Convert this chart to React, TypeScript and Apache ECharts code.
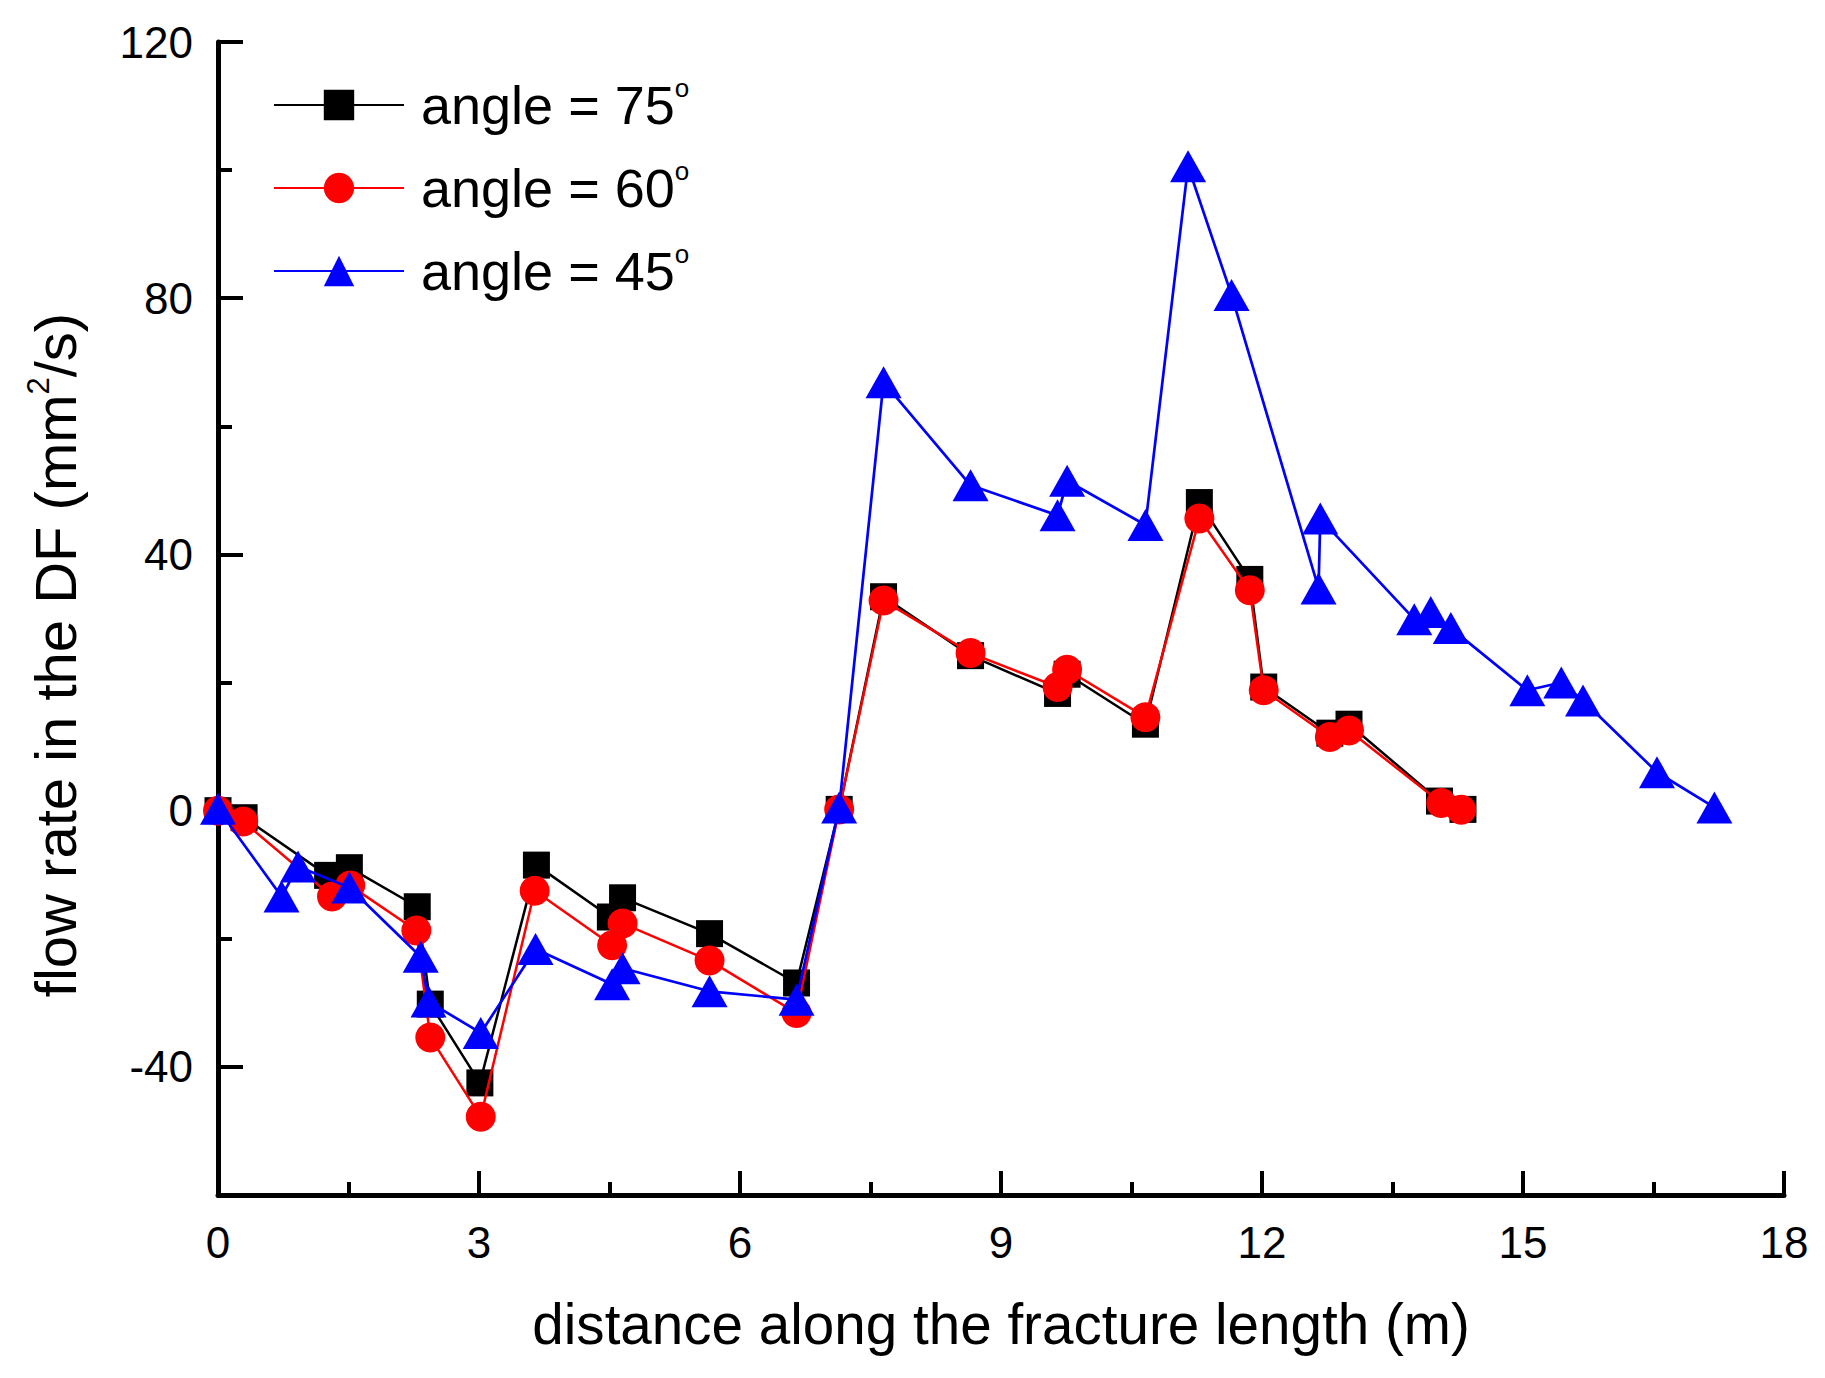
import React, { useEffect, useRef } from "react";
import * as echarts from "echarts";

const FONT = '"Liberation Sans", Arial, sans-serif';

const seriesNames = ["angle = 75", "angle = 60", "angle = 45"];

const x75 = [0, 0.3, 1.26, 1.51, 2.29, 2.44, 3.01, 3.66, 4.51, 4.65, 5.65, 6.65, 7.14, 7.65, 8.65, 9.65, 9.76, 10.66, 11.28, 11.86, 12.02, 12.78, 13.0, 14.04, 14.31];
const y75 = [0, -1.1, -10.1, -8.9, -15.0, -30.2, -42.5, -8.5, -16.6, -13.6, -19.2, -26.9, 0.2, 33.4, 24.2, 18.3, 21.3, 13.5, 48.1, 36.1, 19.3, 12.1, 13.5, 1.5, 0.2];

const x60 = [0, 0.29, 1.31, 1.52, 2.28, 2.44, 3.02, 3.64, 4.53, 4.65, 5.65, 6.65, 7.14, 7.65, 8.65, 9.65, 9.76, 10.66, 11.28, 11.86, 12.02, 12.78, 13.0, 14.06, 14.29];
const y60 = [0, -1.7, -13.4, -11.7, -18.7, -35.4, -47.8, -12.5, -21.0, -17.6, -23.4, -31.6, 0.2, 32.8, 24.6, 19.3, 22.0, 14.6, 45.6, 34.4, 18.8, 11.5, 12.5, 1.2, 0.15];

const x45 = [0, 0.73, 0.92, 1.51, 2.33, 2.42, 3.02, 3.65, 4.53, 4.65, 5.65, 6.65, 7.14, 7.65, 8.65, 9.65, 9.76, 10.66, 11.15, 11.65, 12.65, 12.67, 13.75, 13.94, 14.17, 15.05, 15.44, 15.69, 16.54, 17.2];
const y45 = [0.3, -13.4, -8.7, -12.0, -22.8, -29.8, -34.7, -21.6, -27.1, -24.6, -28.2, -29.5, 0.5, 66.9, 50.8, 46.1, 51.5, 44.6, 100.6, 80.5, 34.7, 45.6, 29.9, 31.0, 28.5, 18.8, 20.0, 17.2, 6.0, 0.5];

const yMajorTicks = [-40, 0, 40, 80, 120];
const yMinorTicks = [-20, 20, 60, 100];

const xTitle = "distance along the fracture length (m)";
const yTitleMain1 = "flow rate in the DF (mm";
const yTitleSup = "2";
const yTitleMain2 = "/s)";

const zip = (xs: number[], ys: number[]) => xs.map((x, i) => [x, ys[i]]);

export default function App() {
  const ref = useRef<HTMLDivElement>(null);
  useEffect(() => {
    if (!ref.current) return;
    const chart = echarts.init(ref.current, undefined, { renderer: "svg" });
    const axisLine = { show: true, onZero: false, lineStyle: { color: "#000", width: 5 } };
    const option: any = {
      animation: false,
      backgroundColor: "#fff",
      grid: { left: 218, right: 41, top: 42, bottom: 183, containLabel: false },
      legend: {
        orient: "vertical",
        left: 273,
        top: 75,
        padding: 0,
        itemWidth: 130,
        itemHeight: 38,
        itemGap: 26,
        data: seriesNames,
        formatter: (name: string) => `{t|${name}}{s|o}`,
        textStyle: {
          rich: {
            t: { fontSize: 54, fontFamily: FONT, color: "#000", padding: [0, 0, 0, 12], lineHeight: 60 },
            s: { fontSize: 26, fontFamily: FONT, color: "#000", verticalAlign: "top", lineHeight: 24 },
          },
        },
      },
      xAxis: {
        type: "value",
        min: 0,
        max: 18,
        interval: 3,
        axisLine,
        splitLine: { show: false },
        axisTick: { show: true, inside: true, length: 24, lineStyle: { color: "#000", width: 4 } },
        minorTick: { show: true, splitNumber: 2, length: 13, lineStyle: { color: "#000", width: 4 } },
        axisLabel: { fontSize: 44, fontFamily: FONT, color: "#000", margin: 25 },
        name: xTitle,
        nameLocation: "middle",
        nameGap: 101,
        nameTextStyle: { fontSize: 56.6, fontFamily: FONT, color: "#000" },
      },
      yAxis: [
        {
          type: "value",
          min: -60,
          max: 120,
          interval: 20,
          axisLine,
          splitLine: { show: false },
          axisTick: { show: true, inside: true, length: 25, customValues: yMajorTicks, lineStyle: { color: "#000", width: 4 } },
          axisLabel: { fontSize: 44, fontFamily: FONT, color: "#000", margin: 25, customValues: yMajorTicks },
        },
        {
          type: "value",
          min: -60,
          max: 120,
          interval: 20,
          position: "left",
          axisLine: { show: false, onZero: false },
          splitLine: { show: false },
          axisTick: { show: true, inside: true, length: 14, customValues: yMinorTicks, lineStyle: { color: "#000", width: 4 } },
          axisLabel: { show: false },
        },
      ],
      graphic: [
        {
          type: "text",
          x: 55,
          y: 655,
          rotation: Math.PI / 2,
          style: {
            text: `{a|${yTitleMain1}}{s|${yTitleSup}}{a|${yTitleMain2}}`,
            align: "center",
            verticalAlign: "middle",
            rich: {
              a: { fontSize: 58, fontFamily: FONT, fill: "#000", lineHeight: 64 },
              s: { fontSize: 31, fontFamily: FONT, fill: "#000", verticalAlign: "top", lineHeight: 29 },
            },
          },
        },
      ],
      series: [
        {
          name: seriesNames[0],
          type: "line",
          data: zip(x75, y75),
          symbol: "rect",
          symbolSize: 27,
          color: "#000000",
          lineStyle: { color: "#000000", width: 2.5 },
          itemStyle: { color: "#000000" },
          z: 2,
        },
        {
          name: seriesNames[1],
          type: "line",
          data: zip(x60, y60),
          symbol: "circle",
          symbolSize: 30,
          color: "#ff0000",
          lineStyle: { color: "#ff0000", width: 2.5 },
          itemStyle: { color: "#ff0000" },
          z: 3,
        },
        {
          name: seriesNames[2],
          type: "line",
          data: zip(x45, y45),
          symbol: "triangle",
          symbolSize: [36, 32],
          color: "#0000ff",
          lineStyle: { color: "#0000ff", width: 2.7 },
          itemStyle: { color: "#0000ff" },
          z: 4,
        },
      ],
    };
    chart.setOption(option);
    return () => chart.dispose();
  }, []);
  return (
    <div
      ref={ref}
      style={{ position: "fixed", left: 0, top: 0, width: 1825, height: 1378, background: "#fff" }}
    />
  );
}
